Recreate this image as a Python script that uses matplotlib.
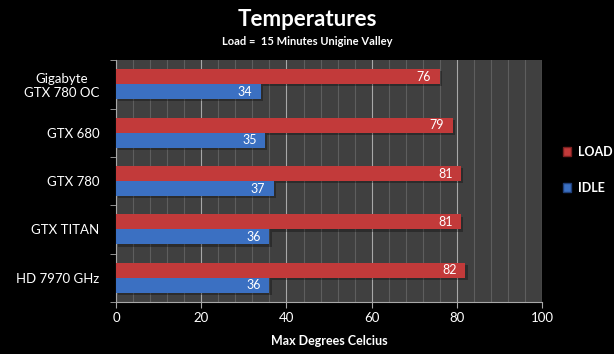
import numpy as np
import matplotlib.pyplot as plt
import matplotlib.patheffects as pe
from matplotlib.patches import Patch

plt.rcParams['font.family'] = ['Lato', 'DejaVu Sans']

cards = ['Gigabyte\nGTX 780 OC', 'GTX 680', 'GTX 780', 'GTX TITAN', 'HD 7970 GHz']
load = [76, 79, 81, 81, 82]
idle = [34, 35, 37, 36, 36]

red = '#c23a3a'
blue = '#3b70c2'

fig = plt.figure(figsize=(6.14, 3.54), dpi=100, facecolor='black')
ax = fig.add_axes([0.189, 0.147, 0.694, 0.683], facecolor='#404040')

y = np.arange(len(cards))
h = 0.31
shadow = [pe.SimplePatchShadow(offset=(1.5, -1.5), shadow_rgbFace='black', alpha=0.3), pe.Normal()]
b1 = ax.barh(y - h / 2, load, height=h, color=red, path_effects=shadow, zorder=3)
b2 = ax.barh(y + h / 2, idle, height=h, color=blue, path_effects=shadow, zorder=3)

for bars in (b1, b2):
    for b in bars:
        ax.text(b.get_width() - 2, b.get_y() + b.get_height() / 2, f'{b.get_width():.0f}',
                ha='right', va='center', color='white', fontsize=9, zorder=4)

ax.set_xlim(0, 100)
ax.set_ylim(len(cards) - 0.5, -0.5)
ax.set_xticks(range(0, 101, 20))
ax.set_xticks(range(0, 101, 4), minor=True)
ax.grid(axis='x', which='major', color='#a8a8a8', lw=0.8, zorder=1)
ax.grid(axis='x', which='minor', color='#5e5e5e', lw=0.8, zorder=1)

ax.set_yticks(y)
ax.set_yticklabels(cards, color='white', fontsize=9.5, multialignment='center')
ax.set_yticks(np.arange(-0.5, len(cards)), minor=True)
ax.tick_params(axis='y', which='major', length=0, pad=12)
ax.tick_params(axis='y', which='minor', length=4, color='#a8a8a8')
ax.tick_params(axis='x', which='major', colors='white', labelsize=9.5, length=4, color='#a8a8a8')
ax.tick_params(axis='x', which='minor', length=0)

for s in ['top', 'right']:
    ax.spines[s].set_visible(False)
for s in ['left', 'bottom']:
    ax.spines[s].set_color('#a8a8a8')

ax.set_xlabel('Max Degrees Celcius', color='white', fontsize=9, fontweight='bold', labelpad=8)

fig.text(0.5, 0.945, 'Temperatures', ha='center', va='center', color='white', fontsize=16, fontweight='bold')
fig.text(0.5, 0.883, 'Load =  15 Minutes Unigine Valley', ha='center', va='center', color='white',
         fontsize=8, fontweight='bold')

handles = [Patch(facecolor=red, edgecolor='#7a2020', label='LOAD'),
           Patch(facecolor=blue, edgecolor='#20407a', label='IDLE')]
leg = fig.legend(handles=handles, loc='center left', bbox_to_anchor=(0.898, 0.52), frameon=False,
                 labelcolor='white', handlelength=0.7, handleheight=0.7,
                 handletextpad=0.5, labelspacing=1.9, prop={'weight': 'bold', 'size': 9})

fig.savefig('out.png', dpi=100, facecolor='black')
